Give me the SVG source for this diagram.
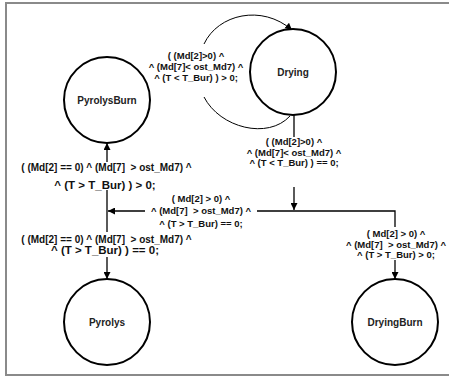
<svg xmlns="http://www.w3.org/2000/svg" width="449" height="379" viewBox="0 0 449 379">
<style>
.frame{fill:none;stroke:#8a8a8a;stroke-width:2}
.node{fill:#fff;stroke:#000;stroke-width:2}
.nlabel{font-family:"Liberation Sans",Arial,sans-serif;font-weight:bold;font-size:10px;fill:#222;text-anchor:middle}
.lbl{font-family:"Liberation Sans",Arial,sans-serif;font-weight:bold;font-size:9.5px;fill:#111;text-anchor:middle;white-space:pre}
.lbl10{font-size:10px}
.big{font-size:11.5px}
.edge{fill:none;stroke:#000;stroke-width:1.3}
.thin{stroke-width:1}
</style>
<defs>
<marker id="arr" viewBox="0 0 10 10" refX="10" refY="5" markerWidth="7" markerHeight="7" markerUnits="userSpaceOnUse" orient="auto">
<path d="M0,0 L10,5 L0,10 z" fill="#000"/>
</marker>
</defs>
<rect width="449" height="379" fill="#fff"/>
<path class="frame" d="M450,3 H6 V375 H450"/>
<g id="connectors">
<path class="edge thin" d="M204,44 C218,14 262,4 292,30" marker-end="url(#arr)"/>
<path class="edge thin" d="M204,97 C220,128 268,140 290,116"/>
<path class="edge" d="M294,115 V137"/>
<path class="edge" d="M294,187 V210" marker-end="url(#arr)"/>
<path class="edge" d="M294,211 H395 V227"/>
<path class="edge" d="M395,260 V279" marker-end="url(#arr)"/>
<path class="edge" d="M294,211 H257 M145,211 H108" marker-end="url(#arr)"/>
<path class="edge" d="M107,162 V143" marker-end="url(#arr)"/>
<path class="edge" d="M107,190 V232"/>
<path class="edge" d="M107,257 V279" marker-end="url(#arr)"/>
<text class="lbl" x="196" y="58.5">( (Md[2]&gt;0) ^</text>
<text class="lbl" x="196" y="69.5">^ (Md[7]&lt; ost_Md7) ^</text>
<text class="lbl" x="196" y="80.5">^ (T &lt; T_Bur) ) &gt; 0;</text>
<text class="lbl" x="294" y="145">( (Md[2]&gt;0) ^</text>
<text class="lbl" x="294" y="155.5">^ (Md[7]&lt; ost_Md7) ^</text>
<text class="lbl" x="294" y="166">^ (T &lt; T_Bur) ) == 0;</text>
<text class="lbl" x="201" y="201.5">( Md[2] &gt; 0) ^</text>
<text class="lbl" x="201" y="214">^ (Md[7]  &gt; ost_Md7) ^</text>
<text class="lbl" x="201" y="226.5">^ (T &gt; T_Bur) == 0;</text>
<text class="lbl" x="396" y="236.5">( Md[2] &gt; 0) ^</text>
<text class="lbl" x="396" y="247.5">^ (Md[7]  &gt; ost_Md7) ^</text>
<text class="lbl" x="396" y="257.5">^ (T &gt; T_Bur) &gt; 0;</text>
<text class="lbl lbl10" x="106.5" y="170.5">( (Md[2] == 0) ^ (Md[7]  &gt; ost_Md7) ^</text>
<text class="lbl big" x="105" y="189">^ (T &gt; T_Bur) ) &gt; 0;</text>
<text class="lbl lbl10" x="106.5" y="242.5">( (Md[2] == 0) ^ (Md[7]  &gt; ost_Md7) ^</text>
<text class="lbl big" x="105" y="254">^ (T &gt; T_Bur) ) == 0;</text>
</g>
<g id="node-drying">
<circle class="node" cx="293" cy="72" r="43"/>
<text class="nlabel" x="293" y="75.5">Drying</text>
</g>
<g id="node-pyrolysburn">
<circle class="node" cx="107" cy="100" r="43"/>
<text class="nlabel" x="107" y="103.5">PyrolysBurn</text>
</g>
<g id="node-pyrolys">
<circle class="node" cx="107" cy="322" r="43"/>
<text class="nlabel" x="107" y="325.5">Pyrolys</text>
</g>
<g id="node-dryingburn">
<circle class="node" cx="395" cy="322" r="43"/>
<text class="nlabel" x="395" y="325.5">DryingBurn</text>
</g>
</svg>
